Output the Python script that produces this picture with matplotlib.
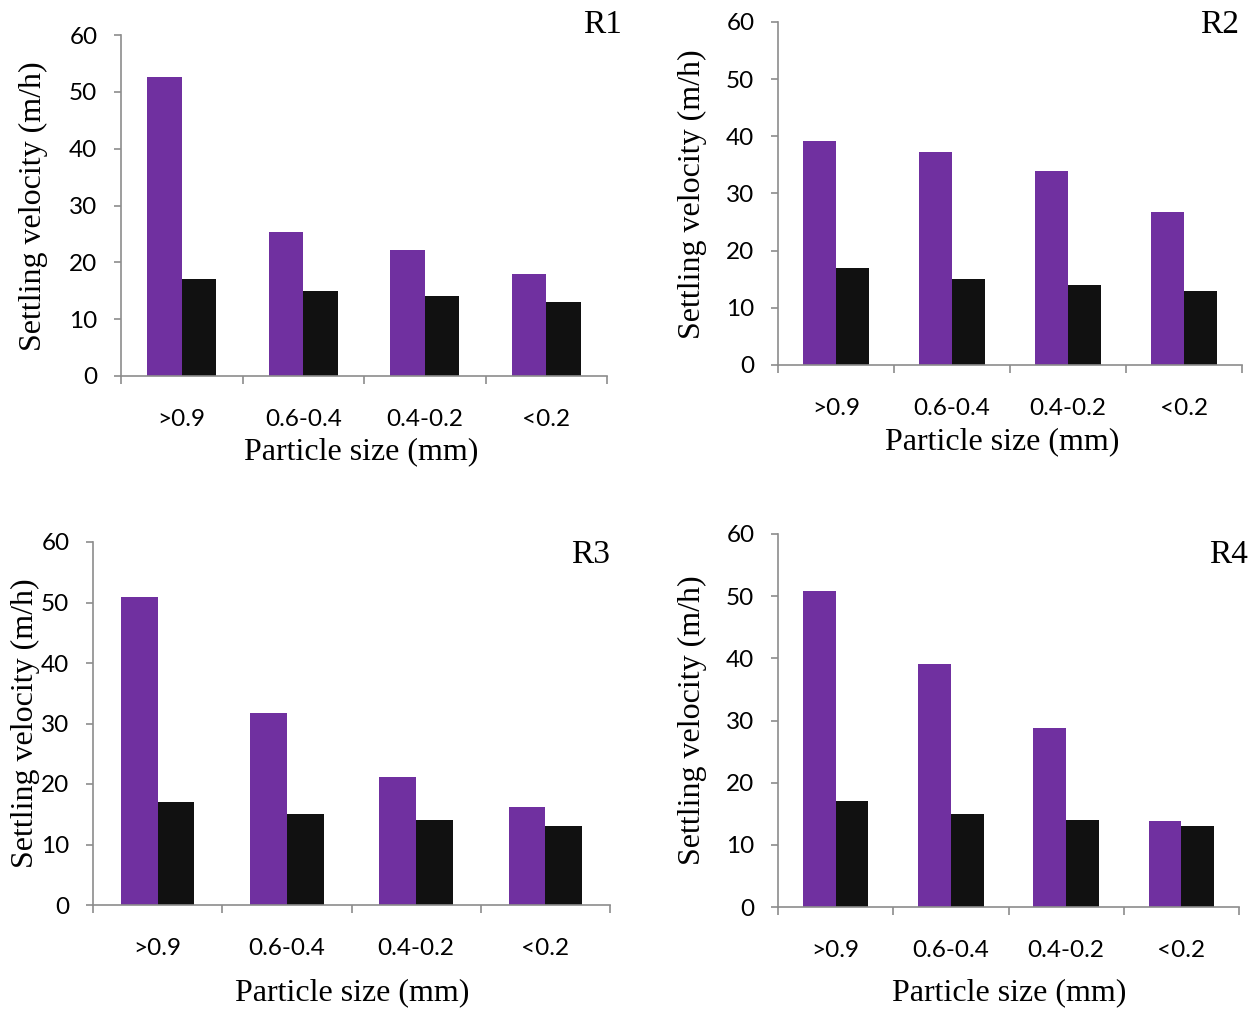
import matplotlib
matplotlib.use("Agg")
import matplotlib.pyplot as plt
import numpy as np

# Particle size classes and settling velocities (m/h)
categories = [">0.9", "0.6-0.4", "0.4-0.2", "<0.2"]
panel_names = ["R1", "R2", "R3", "R4"]
r1_measured = [52.6, 25.4, 22.1, 17.9]
r2_measured = [39.1, 37.2, 33.9, 26.8]
r3_measured = [50.9, 31.8, 21.1, 16.2]
r4_measured = [50.8, 39.1, 28.8, 13.9]
reference_velocity = [17, 15, 14, 13]
y_ticks = [0, 10, 20, 30, 40, 50, 60]

purple = "#7030A0"
dark = "#111111"
spine_grey = "#8c8c8c"
tick_font = "Lato"
label_font = "Liberation Serif"

W, H = 1257, 1009
fig = plt.figure(figsize=(W / 100, H / 100), dpi=100)


def fx(px):
    return px / W


def fy(py):
    return 1 - py / H


# axes boxes in pixels: left, top, right, bottom
boxes = [
    (121, 35, 607, 376),
    (778, 22, 1242, 365),
    (93, 542, 610, 905),
    (778, 534, 1239, 907),
]
# label centres in pixels
tag_px = [(603, 25), (1220, 25), (590, 555), (1228, 555)]
xlabel_px = [(361, 452), (1002, 442), (352, 993), (1009, 993)]
ylabel_px = [(33, 206), (692, 194), (25, 723), (692, 720)]

series = [r1_measured, r2_measured, r3_measured, r4_measured]
x = np.arange(len(categories))
w = 0.285

for box, vals, name, tp, xl, yl in zip(boxes, series, panel_names, tag_px, xlabel_px, ylabel_px):
    l, t, r, b = box
    ax = fig.add_axes([fx(l), fy(b), (r - l) / W, (b - t) / H])
    ax.bar(x - w / 2, vals, width=w, color=purple, edgecolor="none")
    ax.bar(x + w / 2, reference_velocity, width=w, color=dark, edgecolor="none")
    ax.set_xlim(-0.5, len(categories) - 0.5)
    ax.set_ylim(0, 60)
    ax.set_yticks(y_ticks)
    ax.set_yticklabels([str(v) for v in y_ticks], fontfamily=tick_font, fontsize=17.5)
    ax.set_xticks(x)
    ax.set_xticklabels(categories, fontfamily=tick_font, fontsize=17.5)
    ax.tick_params(axis="x", which="major", length=0, pad=24)
    ax.set_xticks(np.arange(-0.5, len(categories)), minor=True)
    ax.tick_params(axis="x", which="minor", length=6, width=1.2, color=spine_grey, direction="out")
    ax.tick_params(axis="y", length=5, width=1.2, color=spine_grey, pad=12)
    for side in ("top", "right"):
        ax.spines[side].set_visible(False)
    for side in ("left", "bottom"):
        ax.spines[side].set_color(spine_grey)
        ax.spines[side].set_linewidth(1.2)
    fig.text(fx(xl[0]), fy(xl[1]), "Particle size (mm)", fontfamily=label_font,
             fontsize=23, ha="center", va="center")
    fig.text(fx(yl[0]), fy(yl[1]), "Settling velocity (m/h)", fontfamily=label_font,
             fontsize=23, ha="center", va="center", rotation=90)
    fig.text(fx(tp[0]), fy(tp[1]), name, fontfamily=label_font, fontsize=24,
             ha="center", va="center")

fig.savefig("out.png", dpi=100, facecolor="white")
